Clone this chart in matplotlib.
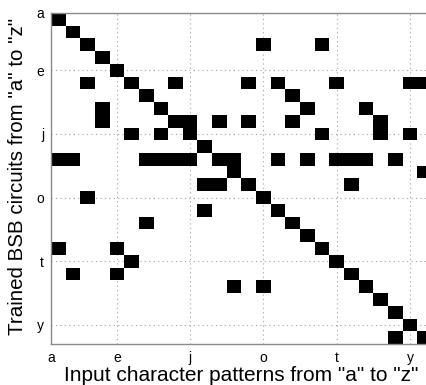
import numpy as np
import matplotlib
matplotlib.use("Agg")
import matplotlib.pyplot as plt

letters = list("abcdefghijklmnopqrstuvwxyz")
# For each trained BSB circuit (row, "a".."z"), the input patterns it converges on
circuit_a = "a"
circuit_b = "b"
circuit_c = "cos"
circuit_d = "d"
circuit_e = "e"
circuit_f = "cfinptyz"
circuit_g = "gq"
circuit_h = "dhrv"
circuit_i = "dijlnqw"
circuit_j = "fhjswy"
circuit_k = "k"
circuit_l = "abghijlmprtuvx"
circuit_m = "mz"
circuit_n = "klnu"
circuit_o = "co"
circuit_p = "kp"
circuit_q = "gq"
circuit_r = "r"
circuit_s = "aes"
circuit_t = "ft"
circuit_u = "beu"
circuit_v = "mov"
circuit_w = "w"
circuit_x = "x"
circuit_y = "y"
circuit_z = "xz"

circuits = [circuit_a, circuit_b, circuit_c, circuit_d, circuit_e, circuit_f,
            circuit_g, circuit_h, circuit_i, circuit_j, circuit_k, circuit_l,
            circuit_m, circuit_n, circuit_o, circuit_p, circuit_q, circuit_r,
            circuit_s, circuit_t, circuit_u, circuit_v, circuit_w, circuit_x,
            circuit_y, circuit_z]

tick_letters = ["a", "e", "j", "o", "t", "y"]
xlabel = 'Input character patterns from "a" to "z"'
ylabel = 'Trained BSB circuits from "a" to "z"'

n = len(letters)
mat = np.zeros((n, n))
for r, hits in enumerate(circuits):
    for ch in hits:
        mat[r, letters.index(ch)] = 1

plt.rcParams['font.family'] = ['Liberation Sans', 'DejaVu Sans']

W, H = 426, 385
fig = plt.figure(figsize=(W / 100, H / 100), dpi=100)
ax = fig.add_axes([51 / W, (H - 344) / H, 381 / W, 331 / H])

masked = np.ma.masked_where(mat == 0, mat)
ax.imshow(masked, cmap="gray_r", vmin=0, vmax=1, interpolation="nearest",
          extent=(0.5, n + 0.5, n + 0.5, 0.5), aspect="auto", zorder=2)
ax.set_xlim(0.5, n + 0.5)
ax.set_ylim(n + 0.5, 0.5)

pos = []
for t in tick_letters:
    i = letters.index(t) + 1
    pos.append(0.5 if i == 1 else i)
ax.set_xticks(pos)
ax.set_xticklabels(tick_letters, fontsize=10)
ax.set_yticks(pos)
ax.set_yticklabels(tick_letters, fontsize=10)
ax.tick_params(length=0, pad=5)

ax.set_axisbelow(True)
ax.grid(True, linestyle=(0, (1, 3)), color="#a0a0a0", linewidth=0.8)

for s in ax.spines.values():
    s.set_color("#8a8a8a")
    s.set_linewidth(1.0)

ax.set_xlabel(xlabel, fontsize=15, ha="center", va="baseline")
ax.xaxis.set_label_coords((241 - 51) / 381, (344 - 381) / 331)
ax.set_ylabel(ylabel, fontsize=14.8, ha="center", va="center")
ax.yaxis.set_label_coords(-(51 - 18) / 381, (344 - 176) / 331)

fig.savefig("out.png", dpi=100)
